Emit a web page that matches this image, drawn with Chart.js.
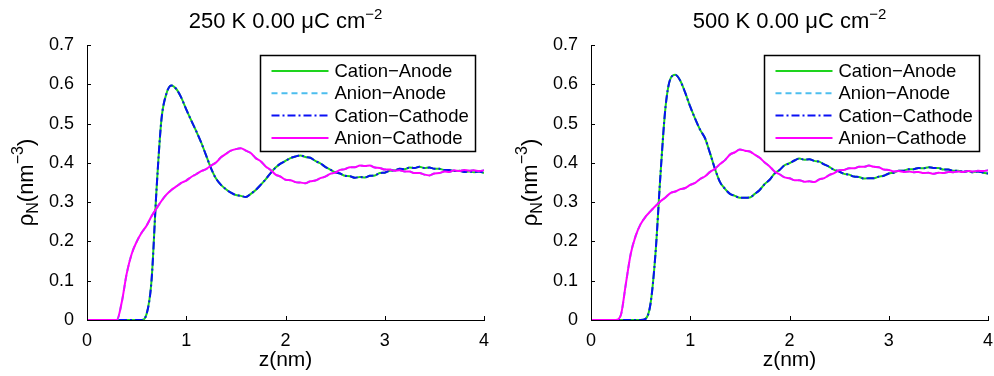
<!DOCTYPE html>
<html>
<head>
<meta charset="utf-8">
<title>Number density profiles</title>
<script src="https://cdn.jsdelivr.net/npm/chart.js@4.4.0/dist/chart.umd.min.js"></script>
<style>
    html, body { margin: 0; padding: 0; background: #fff; }
    #wrap { position: relative; width: 994px; height: 376px; overflow: hidden; }
    #wrap canvas { position: absolute; top: 0; }
</style>
</head>
<body>
<div id="wrap">
    <canvas id="chart250" width="490" height="376" style="left:0px"></canvas>
    <canvas id="chart500" width="490" height="376" style="left:504px"></canvas>
</div>
<script>
// distance from the electrode, nm
const zNm = [
    0.00, 0.05, 0.10, 0.15, 0.20, 0.25, 0.30, 0.35, 0.40, 0.45,
    0.50, 0.55, 0.60, 0.65, 0.70, 0.75, 0.80, 0.85, 0.90, 0.95,
    1.00, 1.05, 1.10, 1.15, 1.20, 1.25, 1.30, 1.35, 1.40, 1.45,
    1.50, 1.55, 1.60, 1.65, 1.70, 1.75, 1.80, 1.85, 1.90, 1.95,
    2.00, 2.05, 2.10, 2.15, 2.20, 2.25, 2.30, 2.35, 2.40, 2.45,
    2.50, 2.55, 2.60, 2.65, 2.70, 2.75, 2.80, 2.85, 2.90, 2.95,
    3.00, 3.05, 3.10, 3.15, 3.20, 3.25, 3.30, 3.35, 3.40, 3.45,
    3.50, 3.55, 3.60, 3.65, 3.70, 3.75, 3.80, 3.85, 3.90, 3.95,
    4.00
];

// 250 K: cation and anion profiles (anode and cathode overlap at zero charge)
const cation250 = [
    0, 0, 0, 0, 0, 0, 0, 0, 0, 0,
    0, 0, 0.015, 0.100, 0.330, 0.510, 0.576, 0.597, 0.588, 0.566,
    0.536, 0.508, 0.481, 0.452, 0.419, 0.386, 0.360, 0.344, 0.333, 0.324,
    0.318, 0.316, 0.313, 0.321, 0.331, 0.344, 0.358, 0.374, 0.388, 0.398,
    0.405, 0.412, 0.416, 0.419, 0.415, 0.413, 0.405, 0.399, 0.390, 0.383,
    0.376, 0.373, 0.367, 0.366, 0.362, 0.364, 0.363, 0.367, 0.368, 0.374,
    0.375, 0.380, 0.381, 0.385, 0.384, 0.388, 0.387, 0.390, 0.387, 0.388,
    0.385, 0.385, 0.382, 0.382, 0.379, 0.380, 0.377, 0.378, 0.376, 0.378,
    0.374
];
const anion250 = [
    0, 0, 0, 0, 0, 0, 0, 0.045, 0.118, 0.168,
    0.199, 0.222, 0.240, 0.264, 0.284, 0.303, 0.319, 0.331, 0.340, 0.349,
    0.355, 0.364, 0.371, 0.379, 0.384, 0.393, 0.401, 0.414, 0.423, 0.431,
    0.435, 0.437, 0.431, 0.425, 0.412, 0.404, 0.391, 0.382, 0.370, 0.365,
    0.357, 0.356, 0.351, 0.350, 0.348, 0.353, 0.355, 0.361, 0.365, 0.372,
    0.375, 0.382, 0.384, 0.389, 0.389, 0.393, 0.392, 0.393, 0.388, 0.387,
    0.383, 0.383, 0.380, 0.381, 0.378, 0.378, 0.374, 0.374, 0.370, 0.368,
    0.373, 0.374, 0.378, 0.377, 0.381, 0.379, 0.382, 0.380, 0.381, 0.379,
    0.381
];

// 500 K
const cation500 = [
    0, 0, 0, 0, 0, 0, 0, 0, 0, 0,
    0, 0.003, 0.042, 0.170, 0.370, 0.540, 0.614, 0.624, 0.609, 0.578,
    0.543, 0.512, 0.484, 0.462, 0.424, 0.384, 0.351, 0.334, 0.321, 0.316,
    0.311, 0.311, 0.312, 0.321, 0.331, 0.346, 0.357, 0.373, 0.382, 0.394,
    0.399, 0.406, 0.411, 0.408, 0.409, 0.405, 0.403, 0.396, 0.390, 0.382,
    0.378, 0.372, 0.370, 0.365, 0.364, 0.360, 0.361, 0.361, 0.365, 0.367,
    0.373, 0.375, 0.380, 0.380, 0.384, 0.384, 0.387, 0.386, 0.389, 0.387,
    0.387, 0.383, 0.383, 0.380, 0.380, 0.377, 0.379, 0.376, 0.378, 0.375,
    0.373
];
const anion500 = [
    0, 0, 0, 0, 0, 0, 0.012, 0.090, 0.168, 0.214,
    0.244, 0.263, 0.277, 0.290, 0.302, 0.312, 0.323, 0.327, 0.333, 0.336,
    0.344, 0.349, 0.359, 0.366, 0.377, 0.385, 0.397, 0.407, 0.421, 0.427,
    0.434, 0.431, 0.429, 0.421, 0.413, 0.401, 0.391, 0.378, 0.371, 0.363,
    0.361, 0.356, 0.356, 0.352, 0.353, 0.351, 0.358, 0.361, 0.369, 0.374,
    0.381, 0.382, 0.386, 0.386, 0.390, 0.390, 0.393, 0.390, 0.389, 0.383,
    0.382, 0.378, 0.379, 0.377, 0.378, 0.376, 0.377, 0.374, 0.375, 0.372,
    0.375, 0.374, 0.377, 0.376, 0.378, 0.377, 0.379, 0.378, 0.380, 0.379,
    0.381
];

const xTicks = [0, 1, 2, 3, 4];
const yTicks = [0, 0.1, 0.2, 0.3, 0.4, 0.5, 0.6, 0.7];
const seriesNames = ['Cation\u2212Anode', 'Anion\u2212Anode', 'Cation\u2212Cathode', 'Anion\u2212Cathode'];

const FONT = '"Liberation Sans", Arial, Helvetica, sans-serif';

document.addEventListener('DOMContentLoaded', () => {
    renderPanel('chart250', '250 K 0.00 \u03bcC cm', cation250, anion250);
    renderPanel('chart500', '500 K 0.00 \u03bcC cm', cation500, anion500);
});

function toPoints(values) {
    return zNm.map((z, i) => ({ x: z, y: values[i] }));
}

// draws a row of text pieces, some raised or lowered (sub/superscripts)
function drawPieces(ctx, pieces, x0, y0) {
    let x = x0;
    pieces.forEach(p => {
        ctx.font = p.size + 'px ' + FONT;
        ctx.fillText(p.text, x, y0 + (p.dy || 0));
        x += ctx.measureText(p.text).width;
    });
}

function piecesWidth(ctx, pieces) {
    return pieces.reduce((w, p) => {
        ctx.font = p.size + 'px ' + FONT;
        return w + ctx.measureText(p.text).width;
    }, 0);
}

// MATLAB-like extras: inward ticks, title, axis labels, boxed legend
const decorPlugin = {
    id: 'decor',
    afterDraw(chart, args, opts) {
        const { ctx, chartArea: a, scales } = chart;
        const cx = (a.left + a.right) / 2;
        const cy = (a.top + a.bottom) / 2;
        ctx.save();
        ctx.fillStyle = '#000';
        ctx.strokeStyle = '#000';

        // ticks pointing into the plot
        ctx.lineWidth = 1;
        ctx.beginPath();
        xTicks.forEach(v => {
            const px = Math.round(scales.x.getPixelForValue(v)) + 0.5;
            ctx.moveTo(px, a.bottom);
            ctx.lineTo(px, a.bottom - 4);
        });
        yTicks.forEach(v => {
            const py = Math.round(scales.y.getPixelForValue(v)) + 0.5;
            ctx.moveTo(a.left, py);
            ctx.lineTo(a.left + 4, py);
        });
        ctx.stroke();

        // title with superscript
        ctx.textAlign = 'left';
        ctx.textBaseline = 'alphabetic';
        const title = [
            { text: opts.title, size: 22 },
            { text: '\u22122', size: 15, dy: -9 }
        ];
        drawPieces(ctx, title, cx - piecesWidth(ctx, title) / 2, 28);

        // x label
        ctx.font = '21px ' + FONT;
        ctx.textAlign = 'center';
        ctx.fillText('z(nm)', cx, 366);

        // y label, rotated
        const ylab = [
            { text: '\u03c1', size: 22 },
            { text: 'N', size: 16, dy: 5 },
            { text: '(nm', size: 22 },
            { text: '\u22123', size: 16, dy: -10 },
            { text: ')', size: 22 }
        ];
        ctx.save();
        ctx.translate(33, cy);
        ctx.rotate(-Math.PI / 2);
        ctx.textAlign = 'left';
        drawPieces(ctx, ylab, -piecesWidth(ctx, ylab) / 2, 0);
        ctx.restore();

        // legend box
        const box = { x: 260.5, y: 55.5, w: 215, h: 96 };
        ctx.fillStyle = '#fff';
        ctx.fillRect(box.x, box.y, box.w, box.h);
        ctx.lineWidth = 1.5;
        ctx.strokeRect(box.x, box.y, box.w, box.h);
        ctx.font = '18.5px ' + FONT;
        ctx.textAlign = 'left';
        ctx.textBaseline = 'middle';
        chart.data.datasets.forEach((ds, i) => {
            const ry = box.y + 15.5 + i * 22.3;
            ctx.save();
            ctx.strokeStyle = ds.borderColor;
            ctx.lineWidth = ds.borderWidth;
            ctx.setLineDash(ds.borderDash || []);
            ctx.beginPath();
            ctx.moveTo(box.x + 11, ry);
            ctx.lineTo(box.x + 68, ry);
            ctx.stroke();
            ctx.restore();
            ctx.fillStyle = '#000';
            ctx.fillText(ds.label, box.x + 74, ry + 1);
        });
        ctx.restore();
    }
};

function renderPanel(canvasId, title, cation, anion) {
    const ctx = document.getElementById(canvasId).getContext('2d');
    const common = { pointRadius: 0, fill: false, borderWidth: 2, cubicInterpolationMode: 'monotone' };

    new Chart(ctx, {
        type: 'line',
        data: {
            datasets: [
                { ...common, label: seriesNames[0], data: toPoints(cation), borderColor: '#1ed41e', order: 4 },
                { ...common, label: seriesNames[1], data: toPoints(anion), borderColor: '#4dbeee', borderDash: [6, 4], order: 3 },
                { ...common, label: seriesNames[2], data: toPoints(cation), borderColor: '#0a10f5', borderDash: [8, 3, 2, 3], order: 2 },
                { ...common, label: seriesNames[3], data: toPoints(anion), borderColor: '#ff00ff', order: 1 }
            ]
        },
        options: {
            responsive: false,
            animation: false,
            devicePixelRatio: 1,
            layout: { padding: { top: 45, right: 6, left: 0, bottom: 0 } },
            scales: {
                x: {
                    type: 'linear',
                    min: 0,
                    max: 4,
                    afterBuildTicks: s => { s.ticks = xTicks.map(v => ({ value: v })); },
                    afterFit: s => { s.height = 56; s.paddingLeft = 0; s.paddingRight = 0; },
                    grid: { display: false },
                    border: { display: true, color: '#000', width: 1 },
                    ticks: {
                        color: '#000',
                        font: { family: FONT, size: 18 },
                        padding: 2,
                        maxRotation: 0,
                        autoSkip: false,
                        callback: v => String(v)
                    }
                },
                y: {
                    min: 0,
                    max: 0.7,
                    afterBuildTicks: s => { s.ticks = yTicks.map(v => ({ value: v })); },
                    afterFit: s => { s.width = 87; s.paddingTop = 0; s.paddingBottom = 0; },
                    grid: { display: false },
                    border: { display: true, color: '#000', width: 1 },
                    ticks: {
                        color: '#000',
                        font: { family: FONT, size: 18 },
                        padding: 5,
                        autoSkip: false,
                        callback: v => v === 0 ? '0' : v.toFixed(1)
                    }
                }
            },
            plugins: {
                legend: { display: false },
                title: { display: false },
                tooltip: { enabled: false },
                decor: { title: title }
            }
        },
        plugins: [decorPlugin]
    });
}
</script>
</body>
</html>
